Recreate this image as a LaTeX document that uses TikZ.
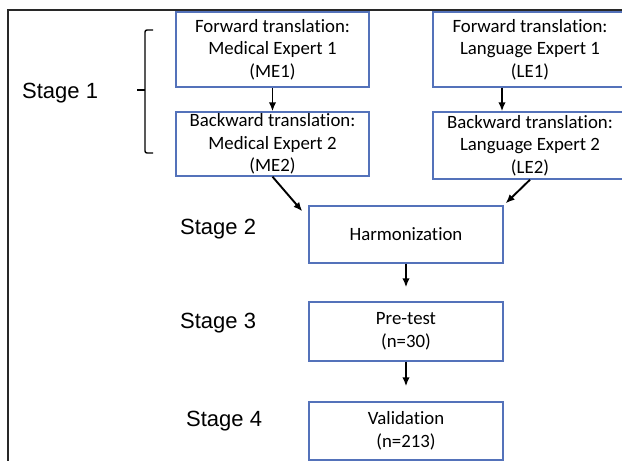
\documentclass[tikz,border=0pt]{standalone}
\usepackage{fontspec}
\setmainfont{Carlito}[Ligatures=NoCommon]
\newfontfamily\stagefont{Liberation Sans}
\usetikzlibrary{arrows.meta}
\definecolor{boxblue}{RGB}{84,114,186}
\definecolor{framegray}{RGB}{40,40,40}
\tikzset{
  box/.style={draw=boxblue,line width=1.4pt,inner sep=0pt,align=center,
    font=\fontsize{18.8}{22.5}\selectfont},
  stage/.style={anchor=base west,inner sep=0pt,font=\stagefont\fontsize{22}{26}\selectfont},
  arr/.style={-{Latex[length=9pt,width=7.5pt]},line width=1.9pt}
}
\begin{document}
\begin{tikzpicture}[x=1pt,y=-1pt]
\useasboundingbox (0,0) rectangle (622,461);
% frame
\draw[framegray,line width=2pt](8,470)--(8,10)--(630,10);
% stage 1 boxes
\node[box,minimum width=193,minimum height=75](me1) at (272.5,49.5){Forward translation:\\Medical Expert 1\\(ME1)};
\node[box,minimum width=193,minimum height=64](me2) at (272.5,144){Backward translation:\\Medical Expert 2\\(ME2)};
\node[box,minimum width=194,minimum height=75](le1) at (530,49.5){Forward translation:\\Language Expert 1\\(LE1)};
\node[box,minimum width=194,minimum height=67](le2) at (530,145.5){Backward translation:\\Language Expert 2\\(LE2)};
% later stages
\node[box,minimum width=194,minimum height=57](harm) at (406,234.5){Harmonization};
\node[box,minimum width=194,minimum height=59](pre) at (406,331.5){Pre-test\\(n=30)};
\node[box,minimum width=194,minimum height=58](valid) at (406,431){Validation\\(n=213)};
% labels
\node[stage](s1) at (22,98){Stage 1};
\node[stage](s2) at (180,234){Stage 2};
\node[stage](s3) at (180,328){Stage 3};
\node[stage](s4) at (186,426){Stage 4};
% bracket
\draw[line width=1.4pt,rounded corners=2pt](153,30)--(145,30)--(145,153)--(153,153);
\draw[line width=1.4pt](137,90)--(145,90);
% arrows
\draw[arr](me1.south)--(me2.north);
\draw[arr]([xshift=-28pt]le1.south)--([xshift=-28pt]le2.north);
\draw[arr](me2.south)--([xshift=-6pt,yshift=-6pt]harm.north west);
\draw[arr](le2.south)--([xshift=2pt,yshift=2pt]harm.north east);
\draw[arr](harm.south)--([yshift=14pt]pre.north);
\draw[arr](pre.south)--([yshift=15pt]valid.north);
\end{tikzpicture}
\end{document}
